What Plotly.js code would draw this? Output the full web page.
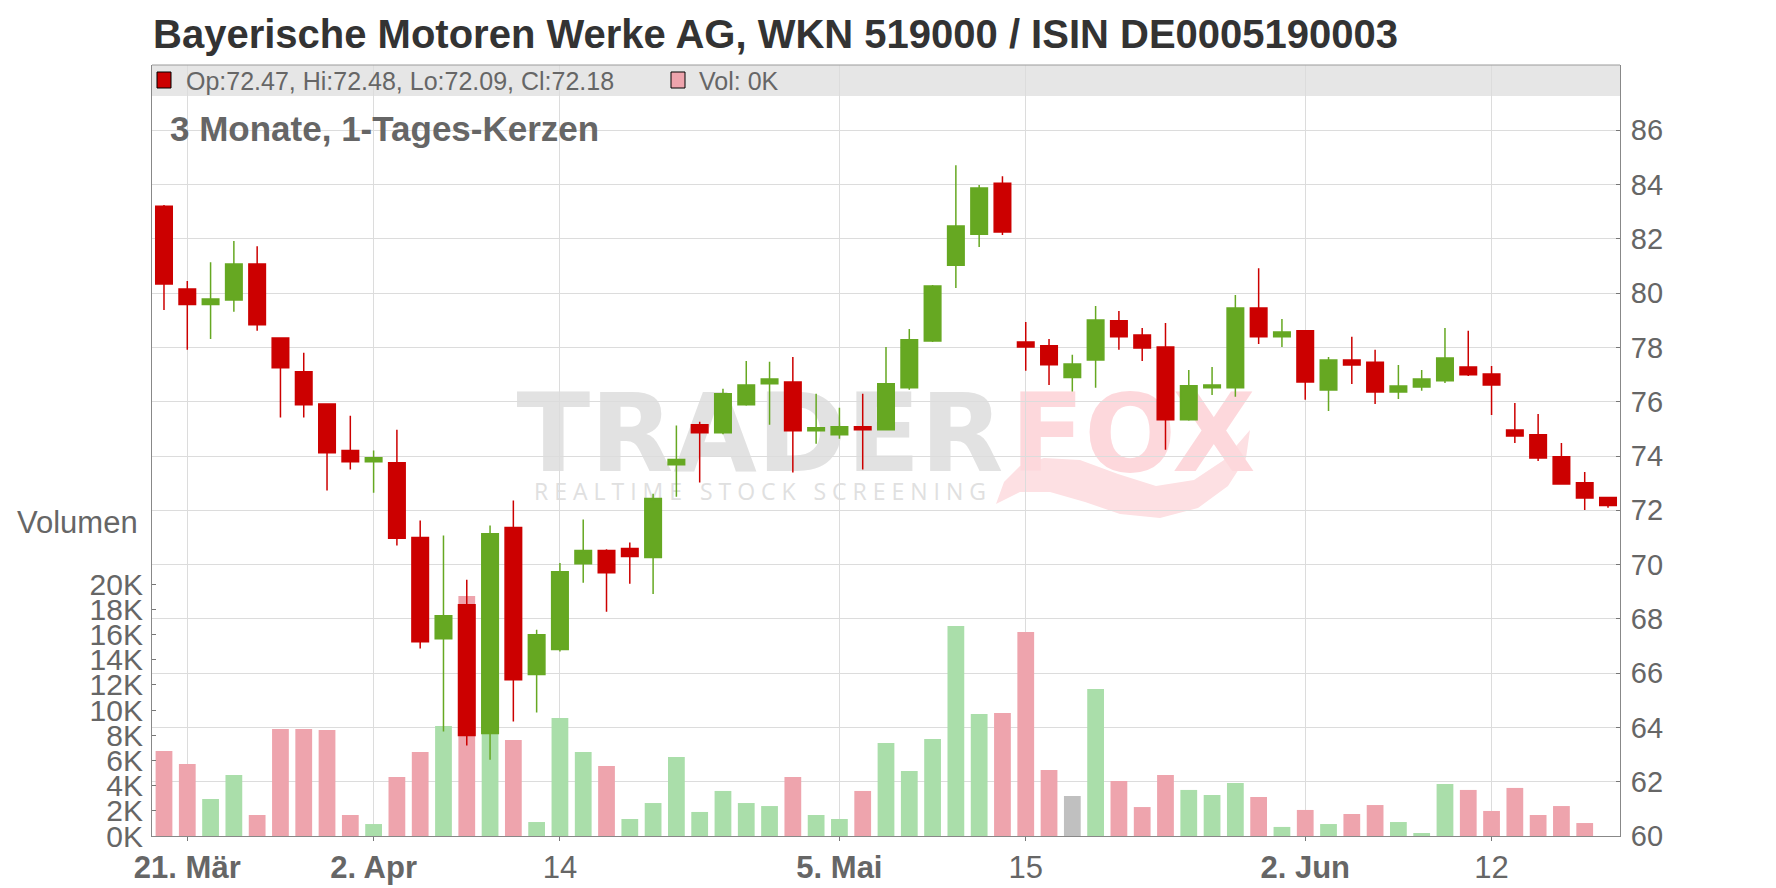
<!DOCTYPE html>
<html><head><meta charset="utf-8">
<script src="https://cdn.plot.ly/plotly-3.0.1.min.js"></script>
<style>html,body{margin:0;padding:0;background:#fff}#chart{width:1776px;height:888px}</style>
</head><body><div id="chart"></div>
<script>
const dates = ['2025-03-20','2025-03-21','2025-03-24','2025-03-25','2025-03-26','2025-03-27','2025-03-28','2025-03-31',
'2025-04-01','2025-04-02','2025-04-03','2025-04-04','2025-04-07','2025-04-08','2025-04-09','2025-04-10','2025-04-11',
'2025-04-14','2025-04-15','2025-04-16','2025-04-17','2025-04-22','2025-04-23','2025-04-24','2025-04-25','2025-04-28',
'2025-04-29','2025-04-30','2025-05-02','2025-05-05','2025-05-06','2025-05-07','2025-05-08','2025-05-09','2025-05-12',
'2025-05-13','2025-05-14','2025-05-15','2025-05-16','2025-05-19','2025-05-20','2025-05-21','2025-05-22','2025-05-23',
'2025-05-26','2025-05-27','2025-05-28','2025-05-29','2025-05-30','2025-06-02','2025-06-03','2025-06-04','2025-06-05',
'2025-06-06','2025-06-09','2025-06-10','2025-06-11','2025-06-12','2025-06-13','2025-06-16','2025-06-17','2025-06-18','2025-06-19'];

const openP  = [83.20,80.15,79.58,79.75,81.07,78.35,77.10,75.92,74.20,73.79,73.75,71.00,67.27,68.52,63.78,71.37,65.95,66.87,70.03,70.52,70.59,70.26,73.68,75.15,74.86,75.89,76.66,76.73,74.93,74.78,75.08,74.97,76.51,78.24,81.03,82.17,84.05,78.20,78.06,76.89,77.54,78.98,78.46,78.02,75.34,76.51,76.51,79.45,78.39,78.61,76.43,77.54,77.45,76.36,76.54,76.77,77.28,77.02,74.96,74.78,73.97,73.01,72.47];
const highP  = [83.25,80.45,81.14,81.92,81.73,78.35,77.80,75.92,75.48,74.20,74.97,71.62,71.07,69.44,71.44,72.36,67.60,70.06,71.66,70.56,70.81,72.61,75.12,75.26,76.48,77.50,77.47,77.65,76.29,75.78,76.29,78.02,78.68,80.30,84.71,83.98,84.31,78.94,78.31,77.73,79.53,79.34,78.72,78.90,77.17,77.28,79.93,80.92,79.05,78.63,77.65,78.39,77.91,77.35,77.17,78.72,78.61,77.32,75.95,75.55,74.48,73.41,72.48];
const lowP   = [79.38,77.91,78.31,79.31,78.61,75.42,75.42,72.73,73.50,72.65,70.70,66.91,63.85,63.33,62.81,64.22,64.55,66.80,69.33,68.26,69.29,68.92,72.50,73.02,74.80,75.85,75.15,73.39,74.45,74.64,73.50,74.95,76.44,78.20,80.19,81.70,82.14,77.14,76.62,76.38,76.51,77.91,77.50,74.23,75.30,76.25,76.18,78.13,78.02,76.07,75.66,76.65,75.92,76.10,76.40,76.69,76.95,75.51,74.48,73.82,72.95,72.01,72.09];
const closeP = [80.34,79.58,79.78,81.07,78.84,77.25,75.89,74.12,73.79,73.94,70.97,67.16,68.11,63.70,71.14,65.76,67.41,69.74,70.52,69.70,70.30,72.43,73.87,74.86,76.29,76.62,76.84,74.93,75.04,75.08,74.97,76.66,78.28,80.26,82.47,83.87,82.25,78.02,77.36,77.39,79.01,78.39,77.98,75.34,76.59,76.62,79.45,78.39,78.57,76.73,77.54,77.35,76.36,76.58,76.84,77.61,76.99,76.62,74.74,73.93,72.97,72.45,72.18];
const volumeK = [6.75,5.72,2.94,4.85,1.67,8.50,8.50,8.42,1.67,0.95,4.69,6.67,8.74,19.07,12.0,7.63,1.11,9.38,6.67,5.56,1.35,2.62,6.28,1.91,3.58,2.62,2.38,4.69,1.67,1.35,3.58,7.39,5.17,7.71,16.69,9.69,9.77,16.21,5.24,3.18,11.68,4.37,2.30,4.85,3.66,3.26,4.21,3.10,0.72,2.07,0.95,1.75,2.46,1.11,0.24,4.13,3.66,1.99,3.82,1.67,2.38,1.03,0];
const volumeDir = ['d','d','u','u','d','d','d','d','d','u','d','d','u','d','u','d','u','u','u','d','u','u','u','u','u','u','u','d','u','u','d','u','u','u','u','u','d','d','d','n','u','d','d','d','u','u','u','d','u','d','u','d','d','u','u','u','d','d','d','d','d','d','d'];

const tickDates  = ['2025-03-21','2025-04-02','2025-04-14','2025-05-05','2025-05-15','2025-06-02','2025-06-12'];
const tickLabels = ['21. Mär','2. Apr','14','5. Mai','15','2. Jun','12'];
const tickIsMonth = [true,true,false,true,false,true,false];
const priceTicks = [60,62,64,66,68,70,72,74,76,78,80,82,84,86];
const volTicks = [0,2,4,6,8,10,12,14,16,18,20];

const titleText = 'Bayerische Motoren Werke AG, WKN 519000 / ISIN DE0005190003';
const subtitleText = '3 Monate, 1-Tages-Kerzen';

const UP = '#66a822', DOWN = '#cc0000';
const volColors = {u:'#aadeaa', d:'#eea4ad', n:'#c0c0c0'};

// layout helpers: pixel -> paper
const L = 152, R = 1620, T = 65, B = 836;
const px = v => (v - L) / (R - L);
const py = v => (B - v) / (B - T);

const last = dates.length - 1;
const legendText = 'Op:' + openP[last].toFixed(2) + ', Hi:' + highP[last].toFixed(2) +
  ', Lo:' + lowP[last].toFixed(2) + ', Cl:' + closeP[last].toFixed(2);
const volText = 'Vol: ' + Math.round(volumeK[last]) + 'K';

const traces = [
  {
    type:'bar', x:dates, y:volumeK, yaxis:'y', xaxis:'x',
    marker:{color: volumeDir.map(d => volColors[d]), line:{width:0}},
    hoverinfo:'skip', showlegend:false
  },
  {
    type:'candlestick', x:dates, open:openP, high:highP, low:lowP, close:closeP,
    yaxis:'y2', xaxis:'x', whiskerwidth:0,
    increasing:{line:{color:UP, width:1.5}, fillcolor:UP},
    decreasing:{line:{color:DOWN, width:1.5}, fillcolor:DOWN},
    hoverinfo:'skip', showlegend:false
  }
];

function pathFrom(pts){
  return 'M ' + pts.map(p => px(p[0]).toFixed(5) + ',' + py(p[1]).toFixed(5)).join(' L ') + ' Z';
}
const tailPts = [[996,504],[1004,482],[1020,466],[1044,458],[1080,460],[1118,474],[1156,486],[1194,480],[1224,460],[1250,430],
  [1246,458],[1228,486],[1198,508],[1160,518],[1120,514],[1085,502],[1050,492],[1020,492]];

const shapes = [
  {type:'rect', xref:'paper', yref:'paper', x0:0, x1:1, y0:py(96), y1:1, fillcolor:'#e6e6e6', line:{width:0}, layer:'below'},
  {type:'line', xref:'paper', yref:'paper', x0:0, x1:1, y0:1, y1:1, line:{color:'#9a9a9a', width:1}},
  {type:'rect', xref:'paper', yref:'paper', x0:px(157), x1:px(171), y0:py(88), y1:py(72), fillcolor:DOWN, line:{color:'#000', width:1}},
  {type:'rect', xref:'paper', yref:'paper', x0:px(671), x1:px(685), y0:py(88), y1:py(72), fillcolor:'#eea4ad', line:{color:'#000', width:1}},
  // watermark
  {type:'path', xref:'paper', yref:'paper', path:pathFrom(tailPts), fillcolor:'#fde0e3', line:{width:0}, layer:'below'},
  {type:'rect', xref:'paper', yref:'paper', x0:px(500), x1:px(1020), y0:py(470), y1:py(380), fillcolor:'rgba(0,0,0,0)', line:{width:0}, layer:'below',
   label:{text:'TRADER', textposition:'middle center', font:{family:'DejaVu Sans', size:108, color:'#e2e2e2', weight:'bold'}}},
  {type:'rect', xref:'paper', yref:'paper', x0:px(1010), x1:px(1256), y0:py(470), y1:py(380), fillcolor:'rgba(0,0,0,0)', line:{width:0}, layer:'below',
   label:{text:'FOX', textposition:'middle center', font:{family:'DejaVu Sans', size:108, color:'#fdd8dc', weight:'bold'}}},
  {type:'rect', xref:'paper', yref:'paper', x0:px(530), x1:px(990), y0:py(506), y1:py(480), fillcolor:'rgba(0,0,0,0)', line:{width:0}, layer:'below',
   label:{text:'R E A L T I M E   S T O C K   S C R E E N I N G', textposition:'middle center', font:{family:'Open Sans', size:23, color:'#e0e0e0'}}}
];

const annotations = [
  {xref:'paper', yref:'paper', x:px(184), y:py(81), xanchor:'left', yanchor:'middle', showarrow:false,
   text:legendText, font:{family:'Liberation Sans, Arial', size:25, color:'#666'}},
  {xref:'paper', yref:'paper', x:px(697), y:py(81), xanchor:'left', yanchor:'middle', showarrow:false,
   text:volText, font:{family:'Liberation Sans, Arial', size:25, color:'#666'}},
  {xref:'paper', yref:'paper', x:px(168), y:py(128), xanchor:'left', yanchor:'middle', showarrow:false,
   text:subtitleText, font:{family:'Liberation Sans, Arial', size:35, color:'#666', weight:'bold'}},
  {xref:'paper', yref:'paper', x:px(140), y:py(522), xanchor:'right', yanchor:'middle', showarrow:false,
   text:'Volumen', font:{family:'Liberation Sans, Arial', size:31, color:'#666'}}
];

const layout = {
  width:1776, height:888,
  margin:{l:L, r:1776-R, t:T, b:888-B, pad:0},
  paper_bgcolor:'#fff', plot_bgcolor:'rgba(0,0,0,0)',
  font:{family:'Liberation Sans, Arial', color:'#666'},
  title:{text:titleText, x:px(153), xref:'paper', xanchor:'left', y:1-34/888, yref:'container', yanchor:'middle',
         font:{family:'Liberation Sans, Arial', size:40, color:'#333', weight:'bold'}},
  showlegend:false,
  bargap:0.28, boxgap:0.29, boxgroupgap:0,
  xaxis:{type:'category', range:[-0.515, dates.length-1+0.515], rangeslider:{visible:false},
    tickmode:'array', tickvals:tickDates, ticktext:tickLabels.map((t,i)=> tickIsMonth[i] ? '<b>'+t+'</b>' : t),
    tickfont:{size:31, color:'#666'}, ticks:'outside', ticklen:4, tickcolor:'#777',
    showgrid:true, gridcolor:'#dcdcdc', gridwidth:1, showline:true, linecolor:'#888', linewidth:1, zeroline:false, fixedrange:true},
  yaxis:{range:[0, (B-T)/12.585], tickmode:'array', tickvals:volTicks, ticktext:volTicks.map(v=>v+'K'),
    side:'left', tickfont:{size:30, color:'#666'}, ticks:'inside', ticklen:4, tickcolor:'#777', ticklabelstandoff:2,
    showgrid:false, showline:true, linecolor:'#888', linewidth:1, zeroline:false, fixedrange:true},
  yaxis2:{overlaying:'y', side:'right', range:[60, 86 + (130.3-T)/27.15], tickmode:'array', tickvals:priceTicks,
    tickfont:{size:29, color:'#666'}, ticks:'inside', ticklen:4, tickcolor:'#777', ticklabelstandoff:4,
    showgrid:true, gridcolor:'#dcdcdc', gridwidth:1, showline:true, linecolor:'#888', linewidth:1, zeroline:false, fixedrange:true},
  shapes:shapes, annotations:annotations
};

Plotly.newPlot('chart', traces, layout, {staticPlot:true, displayModeBar:false});
</script></body></html>
